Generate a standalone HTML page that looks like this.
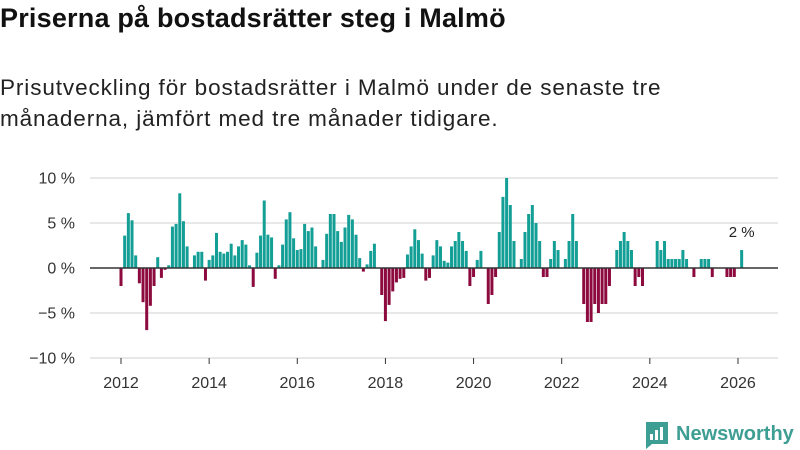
<!DOCTYPE html>
<html><head><meta charset="utf-8"><style>
body{margin:0;background:#fff;font-family:"Liberation Sans","DejaVu Sans",sans-serif;}
#wrap{position:relative;width:800px;height:450px;overflow:hidden;}
h1{position:absolute;left:0;top:3px;margin:0;font-size:27px;font-weight:bold;color:#111;letter-spacing:0.2px;}
p.sub{position:absolute;left:0;top:72px;margin:0;font-size:22.5px;line-height:31px;color:#222;width:690px;letter-spacing:0.9px;}
</style></head><body>
<div id="wrap">
<h1>Priserna på bostadsrätter steg i Malmö</h1>
<p class="sub">Prisutveckling för bostadsrätter i Malmö under de senaste tre månaderna, jämfört med tre månader tidigare.</p>
<svg id="chart" width="800" height="450" style="position:absolute;left:0;top:0"></svg>
</div>
<script>
const startYear = 2012;
const values = [
-2,3.6,6.1,5.3,1.4,-1.7,-3.8,-6.9,-4.2,-2,1.2,-1.1,
-0.2,0.3,4.6,4.9,8.3,5.2,2.4,0,1.4,1.8,1.8,-1.4,
0.9,1.4,3.9,1.8,1.6,1.8,2.7,1.4,2.4,3.1,2.6,0.3,
-2.1,1.7,3.6,7.5,3.7,3.4,-1.2,0.3,2.6,5.4,6.2,3.3,
2,2.1,4.9,4.1,4.5,2.4,0,0.9,3.8,6,6,4.1,
2.9,4.5,5.9,5.4,3.7,1.1,-0.4,0.4,1.9,2.7,0,-3,
-5.9,-4.1,-2.6,-1.6,-1.2,-1.1,1.5,2.4,4.3,3.1,1.6,-1.4,
-1.1,1.4,3.1,2.4,0.8,0.6,2.4,3,4,3,1.9,-2,
-1,0.9,1.9,0,-4,-3,-1,4,7.9,10,7,3,
0,1,4,6,7,5,3,-1,-1,1,3,2,
0,1,3,6,3,0,-4,-6,-6,-4,-5,-4,
-4,-2,0,2,3,4,3,2,-2,-1,-2,0,
0,0,3,2,3,1,1,1,1,2,1,0,
-1,0,1,1,1,-1,0,0,0,-1,-1,-1,
0,2];
const yTicks = [10,5,0,-5,-10];
const yTickLabels = ["10 %","5 %","0 %","\u22125 %","\u221210 %"];
const xTicks = [2012,2014,2016,2018,2020,2022,2024,2026];
const lastLabel = "2 %";

const NS="http://www.w3.org/2000/svg";
const svg=document.getElementById('chart');
const x0=121, yearW=44.07;
function xScale(i){return x0 + (i/12)*yearW;}
function xYear(y){return x0 + (y-startYear)*yearW;}
function yScale(v){return 268 - v*9;}
function mk(t,a){const e=document.createElementNS(NS,t);for(const k in a)e.setAttribute(k,a[k]);svg.appendChild(e);return e;}

yTicks.forEach((t,i)=>{
  if(t!==0){const l=mk('line',{x1:90,x2:778,y1:yScale(t),y2:yScale(t),stroke:'#e0e0e0','stroke-width':1.5});
  
  }
  const tx=mk('text',{x:75,y:yScale(t)+5.5,'text-anchor':'end','font-size':16,fill:'#333','font-family':'Liberation Sans, sans-serif'});
  tx.textContent=yTickLabels[i];
  
  
});
values.forEach((v,i)=>{
  const x=xScale(i);
  const y=v>=0?yScale(v):yScale(0);
  const h=Math.abs(yScale(v)-yScale(0));
  const r=mk('rect',{x:x-1.5,y:y,width:3,height:h,fill:v>=0?'#139e96':'#8c0a3e'});
  
  
});
const ax=mk('line',{x1:90,x2:778,y1:268,y2:268,stroke:'#333','stroke-width':1.5});


xTicks.forEach(t=>{
  const tk=mk('line',{x1:xYear(t),x2:xYear(t),y1:358,y2:364,stroke:'#333','stroke-width':1});
  
  
  const tx=mk('text',{x:xYear(t),y:388,'text-anchor':'middle','font-size':16,fill:'#333','font-family':'Liberation Sans, sans-serif'});
  tx.textContent=t;
  
  
});
const li=values.length-1;
const lab=mk('text',{x:xScale(li),y:yScale(values[li])-13,'text-anchor':'middle','font-size':15,fill:'#222','font-family':'Liberation Sans, sans-serif'});
lab.textContent=lastLabel;



// logo
const g=document.createElementNS(NS,'g');svg.appendChild(g);


const box=document.createElementNS(NS,'path');
box.setAttribute('d','M646 422 h22 v22 h-16 l-6 5 z');box.setAttribute('fill','#3e9e93');g.appendChild(box);
[[650,434,3,6],[655,430,3,10],[660,427,3,13]].forEach(b=>{const r=document.createElementNS(NS,'rect');r.setAttribute('x',b[0]);r.setAttribute('y',b[1]);r.setAttribute('width',b[2]);r.setAttribute('height',b[3]);r.setAttribute('fill','#fff');g.appendChild(r);});
const lt=document.createElementNS(NS,'text');
lt.setAttribute('x',676);lt.setAttribute('y',440);lt.setAttribute('font-size',20);lt.setAttribute('font-weight','bold');lt.setAttribute('fill','#3e9e93');lt.setAttribute('font-family','Liberation Sans, sans-serif');
lt.textContent='Newsworthy';g.appendChild(lt);
</script>
</body></html>
